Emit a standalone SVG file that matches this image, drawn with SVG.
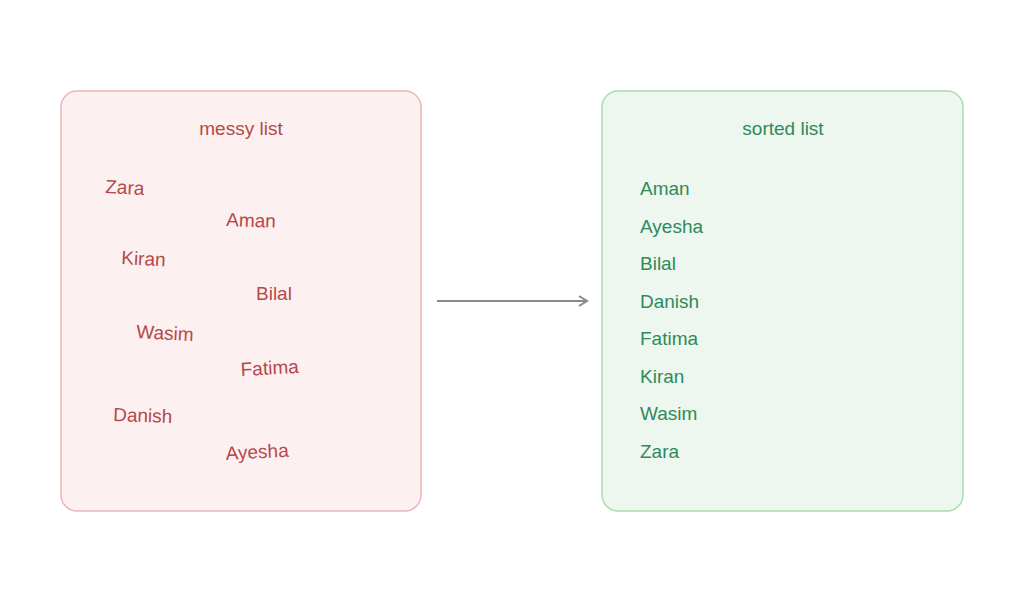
<svg xmlns="http://www.w3.org/2000/svg" width="1024" height="602" viewBox="0 0 1024 602">
<defs>
<style>
.box-red{fill:#fdf0f0;stroke:#eab5b8;stroke-width:1.5}
.box-green{fill:#edf7ef;stroke:#a9dcb2;stroke-width:1.5}
text{font-family:"Liberation Sans",Arial,sans-serif;font-size:19px}
.red{fill:#b5484b}
.green{fill:#2e8a58}
.title{text-anchor:middle}
.conn{stroke:#8a8a8a;stroke-width:2;fill:none}
</style>
<marker id="arrow" viewBox="0 0 12 12" refX="10" refY="6" markerWidth="12" markerHeight="12" markerUnits="userSpaceOnUse" orient="auto">
<path d="M2,1 L10,6 L2,11" fill="none" stroke="#8a8a8a" stroke-width="2"/>
</marker>
</defs>
<rect width="1024" height="602" fill="#ffffff"/>
<g id="messy">
<rect class="box-red" x="61" y="91" width="360" height="420" rx="16"/>
<text class="red title" x="241" y="135">messy list</text>
<text class="red" x="105" y="193" transform="rotate(3 105 193)">Zara</text>
<text class="red" x="226" y="226" transform="rotate(2 226 226)">Aman</text>
<text class="red" x="121" y="264" transform="rotate(3 121 264)">Kiran</text>
<text class="red" x="256" y="300">Bilal</text>
<text class="red" x="136" y="338" transform="rotate(3 136 338)">Wasim</text>
<text class="red" x="241" y="376" transform="rotate(-3 241 376)">Fatima</text>
<text class="red" x="113" y="421" transform="rotate(2 113 421)">Danish</text>
<text class="red" x="226" y="460" transform="rotate(-3 226 460)">Ayesha</text>
</g>
<g id="sorted">
<rect class="box-green" x="602" y="91" width="361" height="420" rx="16"/>
<text class="green title" x="783" y="135">sorted list</text>
<text class="green" x="640" y="195">Aman</text>
<text class="green" x="640" y="233">Ayesha</text>
<text class="green" x="640" y="270">Bilal</text>
<text class="green" x="640" y="308">Danish</text>
<text class="green" x="640" y="345">Fatima</text>
<text class="green" x="640" y="383">Kiran</text>
<text class="green" x="640" y="420">Wasim</text>
<text class="green" x="640" y="458">Zara</text>
</g>
<g id="connectors">
<line class="conn" x1="437" y1="301" x2="587" y2="301" marker-end="url(#arrow)"/>
</g>
</svg>
